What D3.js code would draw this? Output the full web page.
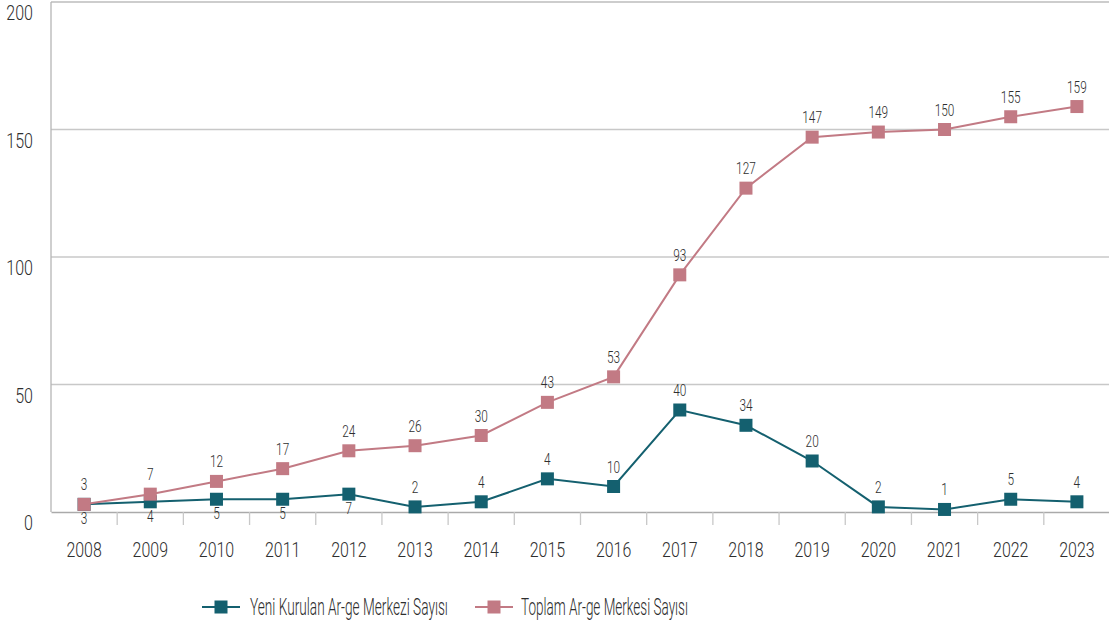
<!DOCTYPE html>
<html><head><meta charset="utf-8">
<script src="https://cdn.jsdelivr.net/npm/d3@7"></script>
<style>
body{margin:0;background:#fff;}
svg{display:block;font-family:"Roboto","Liberation Sans",sans-serif;}
</style></head>
<body>
<svg id="c" width="1109" height="626"></svg>
<script>
const years = ["2008","2009","2010","2011","2012","2013","2014","2015","2016","2017","2018","2019","2020","2021","2022","2023"];
const newCenters = [3,4,5,5,7,2,4,13,10,40,34,20,2,1,5,4];
const newLabels = ["3","4","5","5","7","2","4","4","10","40","34","20","2","1","5","4"];
const newLabelBelow = [true,true,true,true,true,false,false,false,false,false,false,false,false,false,false,false];
const totalCenters = [3,7,12,17,24,26,30,43,53,93,127,147,149,150,155,159];
const yTicks = [0,50,100,150,200];
const seriesNames = ["Yeni Kurulan Ar-ge Merkezi Sayısı","Toplam Ar-ge Merkesi Sayısı"];
const colors = ["#14606f","#c27a84"];

(function(){
const svg = d3.select("#c");
const pL = 51, pR = 1110, pT = 2, pB = 512;
const x = d3.scaleBand().domain(years).range([pL, pR]);
const y = d3.scaleLinear().domain([0,200]).range([pB, pT]);
const textColor = "#2e2e2e";
const fw = 300;

function condense(sel, s) {
  sel.each(function(){
    const t = d3.select(this);
    const tx = +t.attr("x") || 0, ty = +t.attr("y") || 0;
    t.attr("x", 0).attr("y", 0).attr("transform", `translate(${tx},${ty}) scale(${s},1)`);
  });
}

svg.append("g").selectAll("line").data(yTicks.filter(d=>d>0)).join("line")
  .attr("x1", pL).attr("x2", 1109).attr("y1", d=>y(d)).attr("y2", d=>y(d))
  .attr("stroke", d=> d===200 ? "#bdbdbd" : "#c8c8c8").attr("stroke-width", 1.3);
svg.append("line").attr("x1", pL).attr("x2", pL).attr("y1", pT).attr("y2", pB)
  .attr("stroke", "#b5b5b5").attr("stroke-width", 1.3);

svg.append("g").selectAll("text").data(yTicks).join("text")
  .attr("x", 33).attr("y", d=>y(d)+18).attr("text-anchor","end")
  .attr("font-size", 20).attr("font-weight", fw).attr("fill", textColor).text(d=>d)
  .call(condense, 0.8);

const xAxis = svg.append("g").attr("transform", `translate(0,${pB})`)
  .call(d3.axisBottom(x).tickSize(0).tickPadding(0));
xAxis.attr("font-family", null);
xAxis.select(".domain").attr("stroke", "#aaaaaa").attr("stroke-width", 1.3);
xAxis.selectAll("text").attr("font-size", 21).attr("font-weight", fw).attr("fill", textColor)
  .attr("y", 45).attr("dy", null).call(condense, 0.76);
svg.append("g").selectAll("line").data(years.slice(1)).join("line")
  .attr("x1", d=>x(d)).attr("x2", d=>x(d)).attr("y1", pB).attr("y2", pB+13)
  .attr("stroke", "#c8c8c8").attr("stroke-width", 1.3);

const cx = d => x(d) + x.bandwidth()/2;
const line = d3.line().x(d=>cx(d.year)).y(d=>y(d.v));

function drawSeries(values, color) {
  const data = years.map((yr,i)=>({year:yr, v:values[i]}));
  svg.append("path").datum(data).attr("d", line).attr("fill","none")
    .attr("stroke", color).attr("stroke-width", 2);
  svg.append("g").selectAll("rect").data(data).join("rect")
    .attr("x", d=>cx(d.year)-6.5).attr("y", d=>y(d.v)-6.5)
    .attr("width", 13).attr("height", 13).attr("fill", color);
  return data;
}
const dNew = drawSeries(newCenters, colors[0]);
const dTot = drawSeries(totalCenters, colors[1]);

svg.append("g").selectAll("text").data(dNew).join("text")
  .attr("x", d=>cx(d.year)).attr("y", (d,i)=> newLabelBelow[i] ? y(d.v)+20 : y(d.v)-14)
  .attr("text-anchor","middle").attr("font-size", 16).attr("font-weight", fw).attr("fill", textColor)
  .text((d,i)=>newLabels[i]).call(condense, 0.74);
svg.append("g").selectAll("text").data(dTot).join("text")
  .attr("x", d=>cx(d.year)).attr("y", d=>y(d.v)-14)
  .attr("text-anchor","middle").attr("font-size", 16).attr("font-weight", fw).attr("fill", textColor)
  .text(d=>d.v).call(condense, 0.74);

const legendItems = [{x:202, tx:250, w:198}, {x:475, tx:521, w:167}];
legendItems.forEach((it, i) => {
  const g = svg.append("g");
  g.append("line").attr("x1", it.x).attr("x2", it.x+38).attr("y1", 607).attr("y2", 607)
    .attr("stroke", colors[i]).attr("stroke-width", 2);
  g.append("rect").attr("x", it.x+19-6.5).attr("y", 607-6.5).attr("width", 13).attr("height", 13)
    .attr("fill", colors[i]);
  const t = g.append("text").attr("x", it.tx).attr("y", 615)
    .attr("font-size", 24).attr("font-weight", fw).attr("fill", textColor)
    .text(seriesNames[i]);
  const natural = t.node().getComputedTextLength();
  t.call(condense, it.w / natural);
});
})();
</script>
</body></html>
